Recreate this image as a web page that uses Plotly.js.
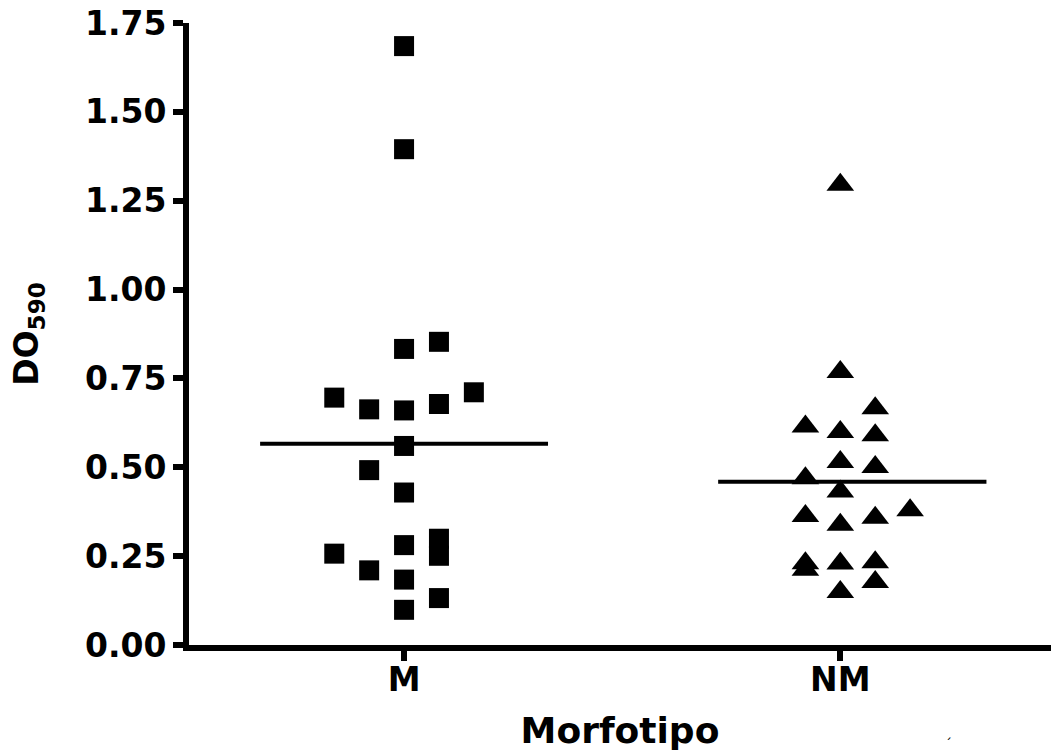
<!DOCTYPE html>
<html>
<head>
<meta charset="utf-8">
<script src="https://cdn.plot.ly/plotly-3.0.1.min.js"></script>
<style>
  html, body { margin: 0; padding: 0; background: #ffffff; }
  #chart { width: 1051px; height: 756px; }
</style>
</head>
<body>
<div id="chart"></div>
<script>
// Categories
const categories = ['M', 'NM'];

// Group M (squares): DO590 values and scatter column index
const mValues = [1.685, 1.395, 0.853, 0.833, 0.711, 0.696, 0.678, 0.663, 0.660, 0.560,
                 0.492, 0.429, 0.299, 0.281, 0.257, 0.251, 0.210, 0.184, 0.132, 0.099];
const mColumns = [0, 0, 1, 0, 2, -2, 1, -1, 0, 0,
                  -1, 0, 1, 0, -2, 1, -1, 0, 1, 0];

// Group NM (triangles): DO590 values and scatter column index
const nmValues = [1.295, 0.768, 0.666, 0.615, 0.599, 0.590, 0.515, 0.501, 0.469, 0.432,
                  0.379, 0.363, 0.358, 0.338, 0.233, 0.230, 0.229, 0.212, 0.177, 0.149];
const nmColumns = [0, 0, 1, -1, 0, 1, 0, 1, -1, 0,
                   2, -1, 1, 0, 1, -1, 0, -1, 1, 0];

// Mean lines
const meanValues = [0.566, 0.459];

// Y axis ticks
const yTickValues = [0, 0.25, 0.5, 0.75, 1.0, 1.25, 1.5, 1.75];
const yTickLabels = ['0.00', '0.25', '0.50', '0.75', '1.00', '1.25', '1.50', '1.75'];

const colStep = 0.08;
const lineLeft = [0.33, 0.28];
const lineRight = [0.33, 0.335];

const traces = [
  {
    type: 'scatter', mode: 'markers',
    x: mColumns.map(c => 0 + c * colStep),
    y: mValues,
    marker: { symbol: 'square', size: 20, color: '#000000' },
    hoverinfo: 'y', cliponaxis: false
  },
  {
    type: 'scatter', mode: 'markers',
    x: nmColumns.map(c => 1 + c * colStep),
    y: nmValues,
    marker: { symbol: 'triangle-up', size: 24, color: '#000000' },
    hoverinfo: 'y', cliponaxis: false
  }
];
meanValues.forEach((m, i) => {
  traces.push({
    type: 'scatter', mode: 'lines',
    x: [i - lineLeft[i], i + lineRight[i]],
    y: [m, m],
    line: { color: '#000000', width: 4 },
    hoverinfo: 'skip'
  });
});

const tickFont = { family: 'DejaVu Sans', size: 33, color: '#000000', weight: 'bold' };

const layout = {
  width: 1051, height: 756,
  paper_bgcolor: '#ffffff', plot_bgcolor: '#ffffff',
  showlegend: false,
  margin: { l: 189, r: 0, t: 23, b: 111, pad: 0 },
  font: { family: 'DejaVu Sans', color: '#000000' },
  xaxis: {
    range: [-0.493, 1.483],
    tickmode: 'array', tickvals: [0, 1], ticktext: categories,
    ticks: 'outside', ticklen: 10, tickwidth: 6, tickcolor: '#000000',
    ticklabelstandoff: -10,
    showline: true, linewidth: 6, linecolor: '#000000',
    showgrid: false, zeroline: false,
    tickfont: tickFont,
    title: { text: 'Morfotipo', font: { family: 'DejaVu Sans', size: 36, color: '#000000', weight: 'bold' }, standoff: 22 }
  },
  yaxis: {
    range: [0, 1.75],
    tickmode: 'array', tickvals: yTickValues, ticktext: yTickLabels,
    ticks: 'outside', ticklen: 10, tickwidth: 6, tickcolor: '#000000',
    showline: true, linewidth: 6, linecolor: '#000000',
    showgrid: false, zeroline: false,
    tickfont: tickFont,
    title: { text: 'DO<sub>590</sub>', font: { family: 'DejaVu Sans', size: 33, color: '#000000', weight: 'bold' }, standoff: 38 }
  },
  annotations: [
    { xref: 'paper', yref: 'paper', x: 0.875, y: -0.143, text: '´', showarrow: false,
      font: { family: 'DejaVu Sans', size: 14, color: '#000000' }, xanchor: 'left', yanchor: 'top' }
  ]
};

Plotly.newPlot('chart', traces, layout, { displayModeBar: false, staticPlot: true });
</script>
</body>
</html>
